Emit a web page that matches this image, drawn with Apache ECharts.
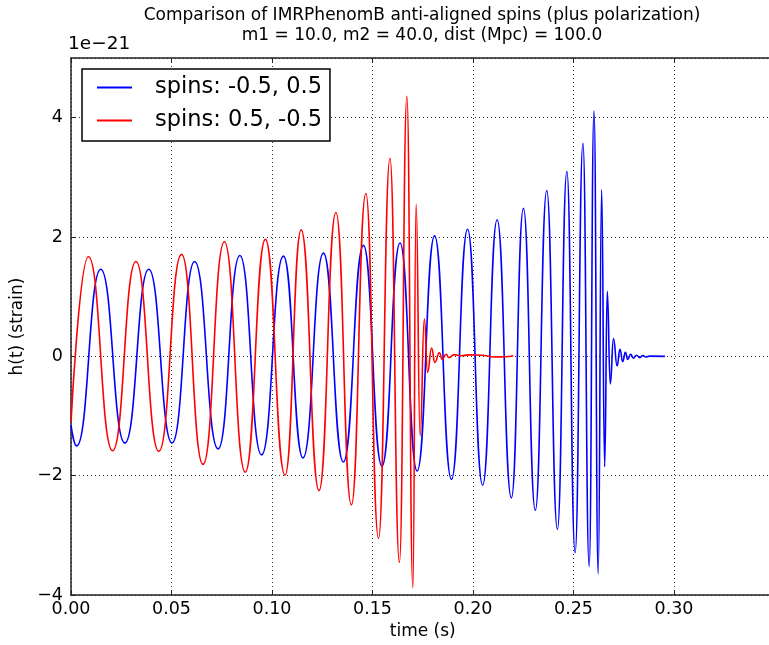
<!DOCTYPE html>
<html>
<head>
<meta charset="utf-8">
<script src="https://cdn.jsdelivr.net/npm/echarts@6/dist/echarts.min.js"></script>
<style>
html, body { margin: 0; padding: 0; overflow: hidden; background: #fff; width: 769px; height: 645px; }
#chart { width: 776px; height: 645px; }
</style>
</head>
<body>
<div id="chart"></div>
<script>
// ---- data (strain in units of 1e-21) ----
const titleLines = ['Comparison of IMRPhenomB anti-aligned spins (plus polarization)', 'm1 = 10.0, m2 = 40.0, dist (Mpc) = 100.0'];
const seriesNames = ['spins: -0.5, 0.5', 'spins: 0.5, -0.5'];
const xTicks = [0.00, 0.05, 0.10, 0.15, 0.20, 0.25, 0.30];
const yTicks = [-4, -2, 0, 2, 4];
const offsetLabel = '1e\u221221';

const blueTime = [0, 0.0028, 0.0148, 0.0268, 0.0387, 0.0503, 0.0615, 0.0732, 0.0840, 0.0948, 0.1057, 0.1154, 0.1256, 0.1355, 0.1455, 0.1547, 0.1637, 0.1722, 0.1809, 0.1893, 0.1973, 0.2048, 0.2120, 0.2191, 0.2251, 0.2310, 0.2367, 0.2420, 0.2467, 0.2508, 0.2547, 0.2578, 0.2602, 0.2623, 0.2640, 0.2655, 0.2668, 0.2683, 0.2699, 0.2717, 0.2731, 0.2745, 0.2758, 0.2770, 0.2784, 0.2798, 0.2813, 0.2830, 0.2845, 0.2860, 0.2880, 0.2955];
const blueStrain = [-1.15, -1.50, 1.46, -1.45, 1.46, -1.45, 1.59, -1.55, 1.69, -1.65, 1.68, -1.70, 1.73, -1.77, 1.86, -1.84, 1.90, -1.92, 2.02, -2.06, 2.13, -2.16, 2.29, -2.37, 2.48, -2.58, 2.78, -2.90, 3.10, -3.29, 3.57, -3.52, 4.11, -3.65, 2.79, -1.85, 1.09, -0.46, 0.30, -0.16, 0.12, -0.09, 0.07, -0.05, 0.035, -0.03, 0.02, -0.02, 0.015, -0.01, 0.005, 0.0];

const redTime = [0, 0.0087, 0.0207, 0.0323, 0.0437, 0.0550, 0.0657, 0.0763, 0.0867, 0.0967, 0.1065, 0.1145, 0.1234, 0.1318, 0.1395, 0.1467, 0.1530, 0.1587, 0.1634, 0.1671, 0.1701, 0.1717, 0.1737, 0.1758, 0.1774, 0.1794, 0.1810, 0.1833, 0.1847, 0.1866, 0.1880, 0.1907, 0.1940, 0.1980, 0.2040, 0.2107, 0.2160, 0.2201];
const redStrain = [-1.10, 1.67, -1.58, 1.59, -1.59, 1.71, -1.81, 1.92, -1.94, 1.96, -1.99, 2.12, -2.25, 2.41, -2.49, 2.73, -3.05, 3.32, -3.45, 4.36, -3.88, 2.55, -1.33, 0.63, -0.27, 0.14, -0.10, 0.06, -0.05, 0.035, -0.02, 0.03, 0.01, 0.025, 0.02, -0.01, -0.005, 0.01];

// ---- chart ----
const FONT = 'DejaVu Sans';
const fmtNum = (v, d) => {
  const s = Math.abs(v).toFixed(d);
  return (v < -1e-9 ? '\u2212' : '') + s;
};
const pairs = (xs, ys) => xs.map((x, i) => [x, ys[i]]);

const chart = echarts.init(document.getElementById('chart'), null, { renderer: 'canvas' });
const gridLine = { show: true, lineStyle: { color: '#333', width: 1, type: [1, 3] } };
const frameLine = { show: true, onZero: false, lineStyle: { color: '#222', width: 1.5 } };
const inTick = { show: true, inside: true, length: 5, lineStyle: { color: '#222', width: 1 } };

chart.setOption({
  animation: false,
  backgroundColor: '#fff',
  graphic: [
    { type: 'text', x: 422, y: 6, style: { text: titleLines.join('\n'), fill: '#000', font: '17px "DejaVu Sans"', textAlign: 'center', lineHeight: 20 } },
    { type: 'text', x: 68, y: 35, style: { text: offsetLabel, fill: '#000', font: '18.5px "DejaVu Sans"', textAlign: 'left' } }
  ],
  grid: { left: 71, right: 1.5, top: 58, bottom: 43, containLabel: false },
  legend: {
    left: 82, top: 69, orient: 'vertical',
    data: seriesNames,
    icon: 'rect', itemWidth: 35, itemHeight: 2, itemGap: 10,
    padding: [7, 8, 9, 15],
    backgroundColor: '#fff', borderColor: '#000', borderWidth: 1.5, borderRadius: 0,
    textStyle: { fontFamily: FONT, fontSize: 22.5, color: '#000', lineHeight: 22, padding: [0, 0, 0, 18] }
  },
  xAxis: [
    {
      type: 'value', min: 0, max: 0.35, interval: 0.05, position: 'bottom',
      name: 'time (s)', nameLocation: 'middle', nameGap: 27,
      nameTextStyle: { fontFamily: FONT, fontSize: 17, color: '#000' },
      axisLine: frameLine, axisTick: inTick, splitLine: gridLine,
      axisLabel: {
        fontFamily: FONT, fontSize: 17.5, color: '#000', margin: 5, showMaxLabel: false,
        formatter: v => (xTicks.some(t => Math.abs(t - v) < 1e-6) ? v.toFixed(2) : '')
      }
    },
    {
      type: 'value', min: 0, max: 0.35, interval: 0.05, position: 'top',
      axisLine: frameLine, axisTick: inTick, splitLine: { show: false }, axisLabel: { show: false }
    }
  ],
  yAxis: [
    {
      type: 'value', min: -4, max: 5, interval: 2, position: 'left',
      name: 'h(t) (strain)', nameLocation: 'middle', nameGap: 42, nameRotate: 90,
      nameTextStyle: { fontFamily: FONT, fontSize: 17, color: '#000' },
      axisLine: frameLine, axisTick: inTick, splitLine: gridLine,
      axisLabel: {
        fontFamily: FONT, fontSize: 17.5, color: '#000', margin: 8, showMaxLabel: false,
        formatter: v => (yTicks.indexOf(Math.round(v)) >= 0 && Math.abs(v - Math.round(v)) < 1e-6 ? fmtNum(v, 0) : '')
      }
    },
    {
      type: 'value', min: -4, max: 5, interval: 2, position: 'right',
      axisLine: frameLine, axisTick: inTick, splitLine: { show: false }, axisLabel: { show: false }
    }
  ],
  series: [
    {
      name: seriesNames[0], type: 'line', data: pairs(blueTime, blueStrain),
      showSymbol: false, symbol: 'none', smooth: 0.5, smoothMonotone: 'x',
      lineStyle: { color: '#0000ff', width: 1.6 }, itemStyle: { color: '#0000ff' }
    },
    {
      name: seriesNames[1], type: 'line', data: pairs(redTime, redStrain),
      showSymbol: false, symbol: 'none', smooth: 0.5, smoothMonotone: 'x',
      lineStyle: { color: '#ff0000', width: 1.6 }, itemStyle: { color: '#ff0000' }
    }
  ]
});
</script>
</body>
</html>
